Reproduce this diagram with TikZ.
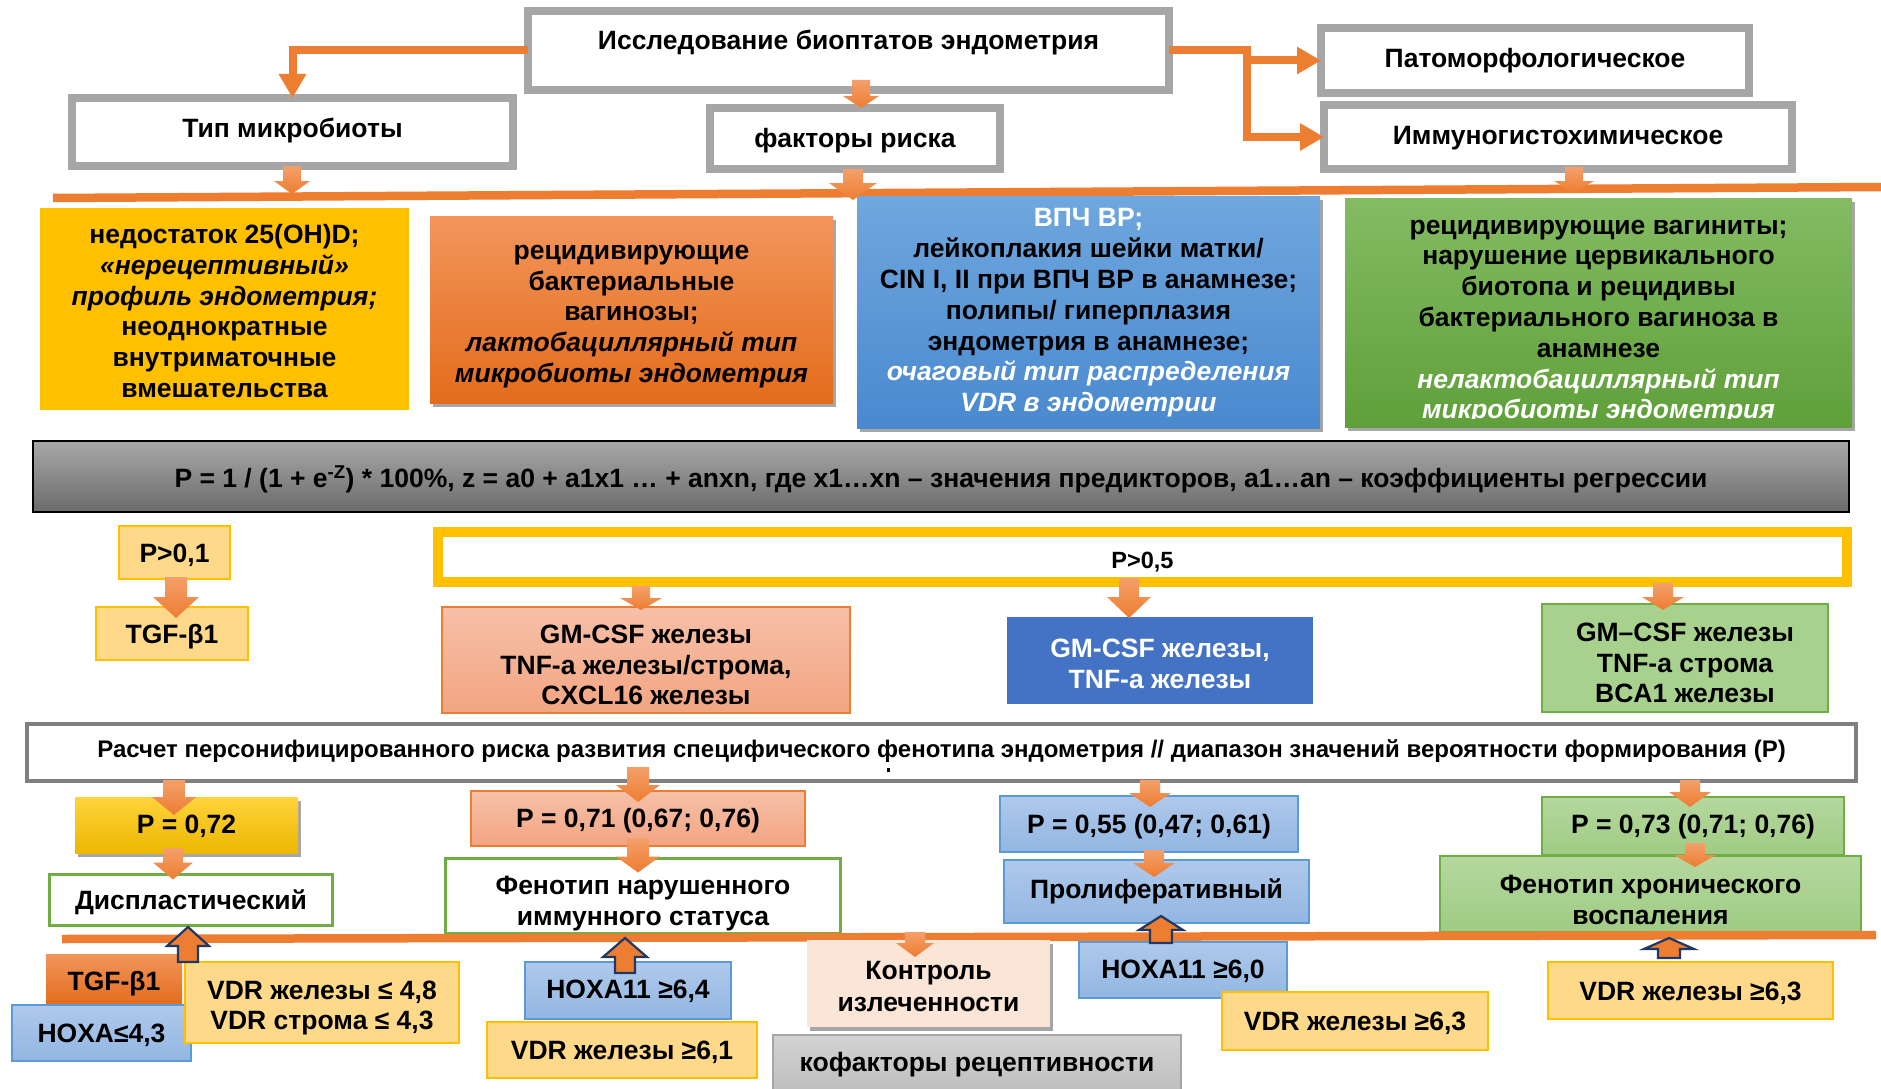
\documentclass[tikz,border=0pt]{standalone}
\usepackage{fontspec}
\setmainfont{Liberation Sans}
\usetikzlibrary{calc,arrows.meta,shadows}

\definecolor{gbord}{HTML}{A6A6A6}
\definecolor{dgbord}{HTML}{7F7F7F}
\definecolor{orng}{HTML}{ED7D31}
\definecolor{orngl}{HTML}{F4A06A}
\definecolor{gold}{HTML}{FFC000}
\definecolor{o2t}{HTML}{F3955B}
\definecolor{o2b}{HTML}{E36C1C}
\definecolor{b2t}{HTML}{6FA7DE}
\definecolor{b2b}{HTML}{4A89CF}
\definecolor{g2t}{HTML}{84BB63}
\definecolor{g2b}{HTML}{5FA03A}
\definecolor{fgt}{HTML}{A8A8A8}
\definecolor{fgb}{HTML}{6B6B6B}
\definecolor{lyel}{HTML}{FFD98A}
\definecolor{salt}{HTML}{F6C0A8}
\definecolor{salb}{HTML}{F3A582}
\definecolor{brblue}{HTML}{4472C4}
\definecolor{lgt}{HTML}{B5D89E}
\definecolor{lgb}{HTML}{9FCB83}
\definecolor{lgreen}{HTML}{A9D18E}
\definecolor{grnbord}{HTML}{70AD47}
\definecolor{pyt}{HTML}{FFD43C}
\definecolor{pyb}{HTML}{ECB700}
\definecolor{lbt}{HTML}{AFC9EB}
\definecolor{lbb}{HTML}{92B6E2}
\definecolor{bluebord}{HTML}{5B9BD5}
\definecolor{peach}{HTML}{FBE5D6}
\definecolor{kgt}{HTML}{D3D3D3}
\definecolor{kgb}{HTML}{BDBDBD}
\definecolor{navy}{HTML}{203864}

\newcommand\fmain{\fontsize{26.5pt}{30.8pt}\selectfont\bfseries}
\newcommand\fwide{\fontsize{26.5pt}{32pt}\selectfont\bfseries}
\newcommand\fcalc{\fontsize{24pt}{28pt}\selectfont\bfseries}
\newcommand\fsmall{\fontsize{23.5pt}{27pt}\selectfont\bfseries}

% block arrow pointing down: x, start anchor, start offset, end anchor, end offset,
% shaft half width, head half width, head length
\newcommand\blockdown[8]{%
  \path[downarrow] let \p1=($(#1,0 |- #2)+(0,#3)$), \p2=($(#1,0 |- #4)+(0,#5)$) in
    (\x2-#6,\y1) -- (\x2+#6,\y1) -- (\x2+#6,\y2+#8) -- (\x2+#7,\y2+#8)
    -- (\x2,\y2) -- (\x2-#7,\y2+#8) -- (\x2-#6,\y2+#8) -- cycle;}
% outlined block arrow pointing up
\newcommand\blockup[8]{%
  \draw[uparrow] let \p1=($(#1,0 |- #2)+(0,#3)$), \p2=($(#1,0 |- #4)+(0,#5)$) in
    (\x2-#6,\y1) -- (\x2+#6,\y1) -- (\x2+#6,\y2-#8) -- (\x2+#7,\y2-#8)
    -- (\x2,\y2) -- (\x2-#7,\y2-#8) -- (\x2-#6,\y2-#8) -- cycle;}
% text of a box, set at its centre moved down by the given amount
\newcommand\boxtxt[4][]{\node[box,#1] (#2-t) at ($(#2.center)+(0,#3)$) {#4};}

\begin{document}
\begin{tikzpicture}[x=1pt,y=-1pt,
  box/.style={rectangle, inner sep=0pt, outer sep=0pt, align=center, font=\fmain},
  gbox/.style={box, draw=gbord, line width=8pt, fill=white},
  ybox/.style={box, fill=lyel, draw=gold, line width=2pt},
  lbbox/.style={box, top color=lbt, bottom color=lbb, draw=bluebord, line width=2pt},
  lgbox/.style={box, top color=lgt, bottom color=lgb, draw=grnbord, line width=2pt},
  salbox/.style={box, top color=salt, bottom color=salb, draw=orng, line width=1.5pt},
  wgbox/.style={box, fill=white, draw=grnbord, line width=3pt},
  dshadow/.style={drop shadow={shadow xshift=3pt, shadow yshift=-4pt, opacity=0.35, fill=black}},
  conn/.style={draw=orng, line width=8pt, line join=miter, -{Triangle[length=24pt,width=26pt]}},
  hline/.style={draw=orng, line width=8.5pt},
  downarrow/.style={top color=orngl, bottom color=orng},
  uparrow/.style={fill=orng, draw=navy, line width=2.2pt, line join=miter}]

\useasboundingbox (0,0) rectangle (1881,1089);
\fill[white] (0,0) rectangle (1881,1089);

% ---------- upper horizontal bar ----------
\coordinate (l1a) at (53,198);
\coordinate (l1b) at (1881,187);
\coordinate (l1t) at (292,194);
\draw[hline] (l1a) -- (l1b);

% ---------- study block ----------
\node[gbox, minimum width=641pt, minimum height=79pt] (top) at (848.5,50.5) {};
\boxtxt{top}{-8}{Исследование биоптатов эндометрия}
\node[gbox, minimum width=441pt, minimum height=68pt] (tip) at (292.5,132) {};
\boxtxt{tip}{-1}{Тип микробиоты}
\node[gbox, minimum width=290pt, minimum height=61pt] (fac) at (855,138.5) {};
\boxtxt{fac}{2}{факторы риска}
\node[gbox, minimum width=428pt, minimum height=65pt] (pat) at (1535,60.5) {};
\boxtxt{pat}{0}{Патоморфологическое}
\node[gbox, minimum width=468pt, minimum height=64pt] (imm) at (1558,137) {};
\boxtxt{imm}{1}{Иммуногистохимическое}

\draw[conn] (top.west) -| (tip.north);
\draw[conn] (top.east) -- ++(78,0) coordinate (jn) |- (imm.west);
\draw[conn] (jn |- pat.west) -- (pat.west);

% ---------- risk factor blocks ----------
\node[box, minimum width=369pt, minimum height=202pt, fill=gold] (ry) at (224.5,309) {};
\boxtxt{ry}{2}{недостаток 25(OH)D;\\ \textit{«нерецептивный»}\\ \textit{профиль эндометрия;}\\
   неоднократные\\ внутриматочные\\ вмешательства}
\node[box, minimum width=403pt, minimum height=187pt, top color=o2t, bottom color=o2b, dshadow] (ro) at (631.5,309.5) {};
\boxtxt{ro}{7}{рецидивирующие\\ бактериальные\\ вагинозы;\\ \textit{лактобациллярный тип}\\ \textit{микробиоты эндометрия}}
\node[box, minimum width=463pt, minimum height=232pt, top color=b2t, bottom color=b2b, dshadow] (rb) at (1088.5,312) {};
\boxtxt{rb}{1}{\textcolor{white}{ВПЧ ВР;}\\ лейкоплакия шейки матки/\\ CIN I, II при ВПЧ ВР в анамнезе;\\
   полипы/ гиперплазия\\ эндометрия в анамнезе;\\
   \textcolor{white}{\textit{очаговый тип распределения}}\\ \textcolor{white}{\textit{VDR в эндометрии}}}
\node[box, minimum width=507pt, minimum height=229pt, top color=g2t, bottom color=g2b, dshadow] (rg) at (1598.5,312.5) {};
\begin{scope}
  \clip (rg.north west) rectangle ([yshift=9pt]rg.south east);
  \boxtxt{rg}{9.5}{рецидивирующие вагиниты;\\ нарушение цервикального\\ биотопа и рецидивы\\
     бактериального вагиноза в\\ анамнезе\\
     \textcolor{white}{\textit{нелактобациллярный тип}}\\ \textcolor{white}{\textit{микробиоты эндометрия}}}
\end{scope}

\blockdown{861}{top.south}{-10}{fac.north}{0}{9pt}{18pt}{12pt}
\blockdown{292}{tip.south}{0}{l1t}{0}{9pt}{18pt}{13pt}
\blockdown{853}{fac.south}{0}{rb.north}{4}{10pt}{24pt}{17pt}
\blockdown{1574}{imm.south}{-2}{rg.north}{-5}{9pt}{20pt}{12pt}

% ---------- regression formula ----------
\node[box, minimum width=1816pt, minimum height=71pt, top color=fgt, bottom color=fgb,
      draw=black, line width=1.2pt] (form) at (941,476.5) {};
\boxtxt{form}{2.5}{P = 1 / (1 + e\textsuperscript{-Z}) * 100\%, z = a0 + a1x1 … + anxn, где x1…xn – значения предикторов, a1…an – коэффициенты регрессии}

% ---------- thresholds ----------
\node[ybox, minimum width=111pt, minimum height=53pt] (p01) at (174.5,552.5) {};
\boxtxt{p01}{2.5}{P>0,1}
\node[ybox, minimum width=152pt, minimum height=53pt] (tgf) at (172,633.5) {};
\boxtxt{tgf}{3.5}{TGF-β1}
\blockdown{176}{p01.south}{-2}{tgf.north}{11}{11pt}{23pt}{21pt}

\node[box, minimum width=1409pt, minimum height=50pt, draw=gold, line width=10pt, fill=white] (p05) at (1142.5,557) {};
\boxtxt[font=\fsmall]{p05}{5}{P>0,5}

\node[salbox, minimum width=408pt, minimum height=106pt] (cyt1) at (646,660) {};
\boxtxt{cyt1}{5}{GM-CSF железы\\ TNF-a железы/строма,\\ CXCL16 железы}
\node[box, minimum width=306pt, minimum height=87pt, fill=brblue] (cyt2) at (1160,660.5) {};
\boxtxt[text=white]{cyt2}{3.5}{GM-CSF железы,\\ TNF-a железы}
\node[box, minimum width=286pt, minimum height=108pt, fill=lgreen, draw=grnbord, line width=2pt] (cyt3) at (1685,658) {};
\boxtxt{cyt3}{5}{GM–CSF железы\\ TNF-a строма\\ BCA1 железы}

\blockdown{641}{p05.south}{4}{cyt1.north}{3}{9pt}{21pt}{12pt}
\blockdown{1129}{p05.south}{-4}{cyt2.north}{1}{10pt}{22pt}{21pt}
\blockdown{1663}{p05.south}{1}{cyt3.north}{6}{10pt}{21pt}{13pt}

% ---------- personalised risk ----------
\node[box, minimum width=1829pt, minimum height=57pt, fill=white, draw=dgbord, line width=4pt] (calc) at (941.5,752.5) {};
\boxtxt[font=\fcalc]{calc}{-1}{Расчет персонифицированного риска развития специфического фенотипа эндометрия // диапазон значений вероятности формирования (P)}
\fill (887,768) rectangle (890,772);

\node[box, minimum width=223pt, minimum height=56pt, top color=pyt, bottom color=pyb, dshadow] (p72) at (186.5,825) {};
\boxtxt{p72}{1}{P = 0,72}
\node[wgbox, minimum width=283pt, minimum height=51pt] (disp) at (191,900) {};
\boxtxt{disp}{2.5}{Диспластический}
\node[salbox, minimum width=334pt, minimum height=55pt] (p71) at (638,818.5) {};
\boxtxt{p71}{2.5}{P = 0,71 (0,67; 0,76)}
\node[wgbox, minimum width=395pt, minimum height=75pt] (fen1) at (643,896) {};
\boxtxt{fen1}{7.5}{Фенотип нарушенного\\ иммунного статуса}
\node[lbbox, minimum width=298pt, minimum height=56pt] (p55) at (1149,824) {};
\boxtxt{p55}{2.5}{P = 0,55 (0,47; 0,61)}
\node[lbbox, minimum width=305pt, minimum height=63pt] (prol) at (1156.5,891.5) {};
\boxtxt{prol}{0}{Пролиферативный}
\node[lgbox, minimum width=302pt, minimum height=58pt] (p73) at (1693,826) {};
\boxtxt{p73}{1}{P = 0,73 (0,71; 0,76)}
\node[lgbox, minimum width=421pt, minimum height=76pt] (fen2) at (1650.5,894) {};
\boxtxt{fen2}{6}{Фенотип хронического\\ воспаления}

\blockdown{174}{calc.south}{-1}{p72.north}{18}{11pt}{22pt}{18pt}
\blockdown{173}{p72.south}{-5}{disp.north}{5}{10pt}{20pt}{17pt}
\blockdown{638}{calc.south}{-14}{p71.north}{11}{11pt}{22pt}{17pt}
\blockdown{638}{p71.south}{-8}{fen1.north}{14}{11pt}{22pt}{16pt}
\blockdown{1150}{calc.south}{-1}{p55.north}{11}{10pt}{21pt}{14pt}
\blockdown{1154}{p55.south}{-2}{prol.north}{17}{10pt}{21pt}{14pt}
\blockdown{1690}{calc.south}{-1}{p73.north}{10}{10pt}{21pt}{15pt}
\blockdown{1695}{p73.south}{-12}{fen2.north}{11}{10pt}{21pt}{12pt}

% ---------- lower horizontal bar ----------
\coordinate (l2a) at (62,939);
\coordinate (l2b) at (1876,935);
\coordinate (l2k) at (915,932);
\draw[hline] (l2a) -- (l2b);

% ---------- markers ----------
\node[box, minimum width=136pt, minimum height=51pt, top color=o2t, bottom color=o2b] (tgfb) at (114,979.5) {};
\boxtxt{tgfb}{4.5}{TGF-β1}
\node[lbbox, minimum width=179pt, minimum height=56pt] (hoxa) at (101.5,1033) {};
\boxtxt{hoxa}{2.5}{HOXA≤4,3}
\node[ybox, minimum width=274pt, minimum height=81pt] (vdr1) at (322,1002.5) {};
\boxtxt{vdr1}{5.5}{VDR железы ≤ 4,8\\ VDR строма ≤ 4,3}
\node[lbbox, minimum width=206pt, minimum height=57pt] (hx64) at (628,990.5) {};
\boxtxt{hx64}{1}{HOXA11 ≥6,4}
\node[ybox, minimum width=270pt, minimum height=56pt] (vdr61) at (622,1050) {};
\boxtxt{vdr61}{2.5}{VDR железы ≥6,1}
\node[box, minimum width=243pt, minimum height=87pt, fill=peach, dshadow] (ctrl) at (928.5,983.5) {};
\boxtxt[font=\fwide]{ctrl}{3}{Контроль\\ излеченности}
\node[box, minimum width=408pt, minimum height=60pt, top color=kgt, bottom color=kgb, draw=gbord, line width=2pt] (cof) at (977,1065) {};
\boxtxt{cof}{0}{кофакторы рецептивности}
\node[lbbox, minimum width=208pt, minimum height=56pt] (hx60) at (1183,970) {};
\boxtxt{hx60}{1}{HOXA11 ≥6,0}
\node[ybox, minimum width=266pt, minimum height=58pt] (vdr63a) at (1355,1021) {};
\boxtxt{vdr63a}{2.5}{VDR железы ≥6,3}
\node[ybox, minimum width=285pt, minimum height=57pt] (vdr63b) at (1690.5,990.5) {};
\boxtxt{vdr63b}{2.5}{VDR железы ≥6,3}

\blockdown{915}{l2k}{0}{ctrl.north}{17}{10pt}{19pt}{14pt}

\blockup{188}{vdr1.north}{0}{disp.south}{1.5}{10pt}{21pt}{19pt}
\blockup{625}{hx64.north}{11}{fen1.south}{4.5}{10pt}{22pt}{19pt}
\blockup{1161}{hx60.north}{1}{prol.south}{-7}{11pt}{22pt}{14pt}
\blockup{1669}{vdr63b.north}{-4}{fen2.south}{6}{11pt}{25pt}{11pt}

\end{tikzpicture}
\end{document}
